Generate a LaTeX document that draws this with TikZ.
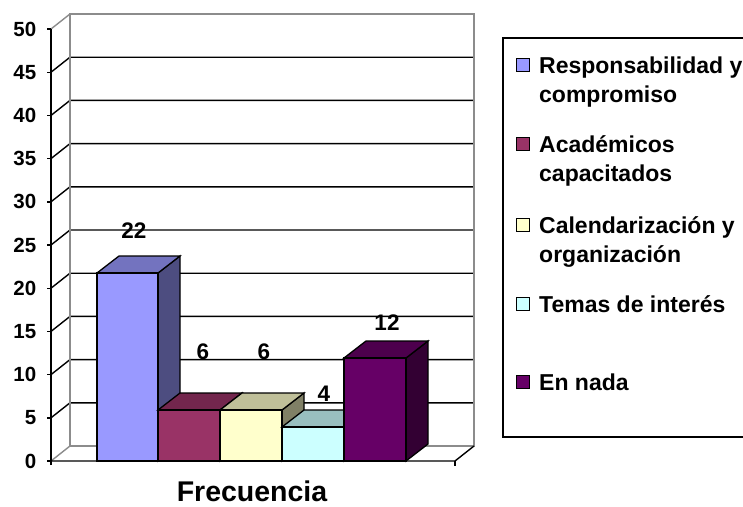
\documentclass[tikz,border=0pt]{standalone}
\usepackage{fontspec}
\setmainfont{Liberation Sans}
\definecolor{fA}{HTML}{9999FF}\definecolor{tA}{HTML}{7373BF}\definecolor{sA}{HTML}{4D4D80}
\definecolor{fB}{HTML}{993366}\definecolor{tB}{HTML}{73264D}\definecolor{sB}{HTML}{4D1A33}
\definecolor{fC}{HTML}{FFFFCC}\definecolor{tC}{HTML}{BFBF99}\definecolor{sC}{HTML}{808066}
\definecolor{fD}{HTML}{CCFFFF}\definecolor{tD}{HTML}{99BFBF}\definecolor{sD}{HTML}{668080}
\definecolor{fE}{HTML}{660066}\definecolor{tE}{HTML}{4D004D}\definecolor{sE}{HTML}{330033}
\definecolor{wallgray}{HTML}{8C8C8C}
\newcommand{\mybar}[6]{%
  \draw[barline,fill=#6] (#2,#3) -- ++(22,-17) -- (#2+22,444) -- (#2,461) -- cycle;
  \draw[barline,fill=#5] (#1,#3) -- ++(22,-17) -- (#2+22,#3-17) -- (#2,#3) -- cycle;
  \draw[barline,fill=#4] (#1,#3) rectangle (#2,461);
}
\begin{document}
\begin{tikzpicture}[x=1pt,y=-1pt,
  grid/.style={black,line width=1.4pt},
  wall/.style={wallgray,line width=1.4pt},
  barline/.style={black,line width=1.3pt,line join=miter},
  ylab/.style={anchor=east,inner sep=0pt,font=\fontsize{20.5}{24}\selectfont\bfseries},
  vlab/.style={inner sep=0pt,font=\fontsize{22.5}{26}\selectfont\bfseries},
  leg/.style={anchor=base west,inner sep=0pt,font=\fontsize{23}{28}\selectfont\bfseries},
  legsq/.style={draw=black,line width=1pt,minimum size=13pt,inner sep=0pt}]
\useasboundingbox (0,0) rectangle (743,506);
\fill[white] (0,0) rectangle (743,506);
% walls
\foreach \k in {1,...,9}{
  \draw[grid] (51,461-43.2*\k) -- (70,446-43.2*\k) -- (474,446-43.2*\k);
}
\draw[wall] (70,446) -- (70,14) -- (474,14) -- (474,446) -- (70,446);
\draw[wall] (51,29) -- (70,14);
\draw[wall] (51,461) -- (70,446);
% axis
\draw[grid] (51,465) -- (51,29);
\foreach \k in {0,...,10}{
  \draw[grid] (47,461-43.2*\k) -- (51,461-43.2*\k);
}
\draw[grid] (51,461) -- (455,461) -- (474,446);
\draw[grid] (455,461) -- (455,466);
% y labels
\foreach \v [count=\i from 0] in {0,5,10,15,20,25,30,35,40,45,50}{
  \node[ylab] (y\i) at (36.5,461-43.2*\i) {\v};
}
% bars
\mybar{97}{158}{273}{fA}{tA}{sA}
\mybar{158}{220}{410}{fB}{tB}{sB}
\mybar{220}{282}{410}{fC}{tC}{sC}
\mybar{282}{344}{427}{fD}{tD}{sD}
\mybar{344}{406}{358}{fE}{tE}{sE}
% value labels
\node[vlab] (v1) at (134,231) {22};
\node[vlab] (v2) at (203,352) {6};
\node[vlab] (v3) at (264,352) {6};
\node[vlab] (v4) at (324,394) {4};
\node[vlab] (v5) at (387,323) {12};
% axis title
\node[anchor=base,inner sep=0pt,font=\fontsize{28.5}{33}\selectfont\bfseries] (xt) at (252,501) {Frecuencia};
% legend
\draw[black,line width=1.3pt] (746,38) -- (503,38) -- (503,437) -- (746,437);
\node[legsq,fill=fA] (s1) at (523,65) {};
\node[leg] (l1a) at (539,73) {Responsabilidad y};
\node[leg] (l1b) at (539,102) {compromiso};
\node[legsq,fill=fB] (s2) at (523,144) {};
\node[leg] (l2a) at (539,152) {Académicos};
\node[leg] (l2b) at (539,181) {capacitados};
\node[legsq,fill=fC] (s3) at (523,225) {};
\node[leg] (l3a) at (539,233) {Calendarización y};
\node[leg] (l3b) at (539,262) {organización};
\node[legsq,fill=fD] (s4) at (523,304) {};
\node[leg] (l4) at (539,312) {Temas de interés};
\node[legsq,fill=fE] (s5) at (523,382) {};
\node[leg] (l5) at (539,390) {En nada};
\end{tikzpicture}
\end{document}
